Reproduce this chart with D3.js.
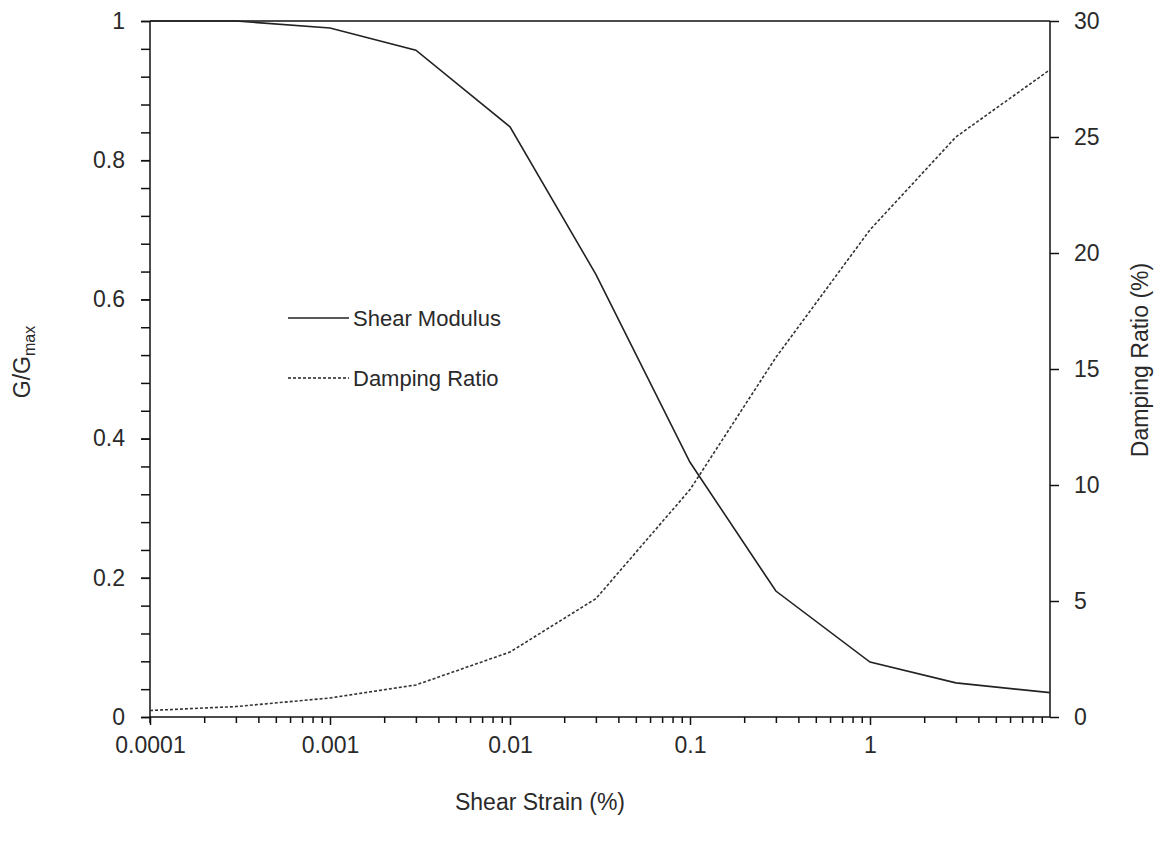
<!DOCTYPE html>
<html lang="en">
<head>
<meta charset="utf-8">
<title>Shear Modulus and Damping Ratio</title>
<script src="https://d3js.org/d3.v7.min.js"></script>
<style>
    body, html { margin: 0; padding: 0; background: #fff; overflow: hidden; }
    text { font-family: Arial, "Liberation Sans", sans-serif; fill: #2a2a2a; }
    .axis path, .axis line { stroke: #111; stroke-width: 1.5px; }
    .axis text { font-size: 23px; }
</style>
</head>
<body>
<svg width="1171" height="843"></svg>
<script>
// strain values (%)
var strain = [0.0001, 0.0003, 0.001, 0.003, 0.01, 0.03, 0.1, 0.3, 1, 3, 10];
// G/Gmax
var modulus = [1.0, 1.0, 0.99, 0.958, 0.848, 0.636, 0.366, 0.181, 0.079, 0.049, 0.035];
// damping ratio (%)
var damping = [0.28, 0.45, 0.82, 1.38, 2.8, 5.1, 9.8, 15.5, 21.0, 25.0, 27.9];

var xTickLabels = ["0.0001", "0.001", "0.01", "0.1", "1"];
var leftTicks = [0, 0.2, 0.4, 0.6, 0.8, 1];
var rightTicks = [0, 5, 10, 15, 20, 25, 30];

var svg = d3.select("svg"),
    margin = {left: 150, right: 121, top: 21, bottom: 126},
    width = 1171 - margin.left - margin.right,
    height = 843 - margin.top - margin.bottom,
    g = svg.append("g").attr("transform", "translate(" + margin.left + "," + margin.top + ")");

var x = d3.scaleLog().domain([0.0001, 10]).range([0, width]);
var yL = d3.scaleLinear().domain([0, 1]).range([height, 0]);
var yR = d3.scaleLinear().domain([0, 30]).range([height, 0]);

// top frame line
g.append("line")
    .attr("x1", 0).attr("x2", width).attr("y1", 0).attr("y2", 0)
    .attr("stroke", "#111").attr("stroke-width", 1.5);

// minor x ticks
var minorX = [];
for (var e = -4; e < 1; e++) {
    for (var m = 2; m <= 9; m++) minorX.push(m * Math.pow(10, e));
}
g.append("g").attr("class", "axis")
    .attr("transform", "translate(0," + height + ")")
    .call(d3.axisBottom(x).tickValues(minorX).tickSize(6).tickFormat(""))
    .select(".domain").remove();

g.append("g").attr("class", "axis")
    .attr("transform", "translate(0," + height + ")")
    .call(d3.axisBottom(x).tickValues(xTickLabels.map(Number)).tickSize(8).tickPadding(12)
        .tickFormat(function (d, i) { return xTickLabels[i]; }))
    .call(function (a) { a.select(".domain").attr("d", "M0,0H" + width); });

// left axis: minor ticks every 0.04
g.append("g").attr("class", "axis")
    .call(d3.axisLeft(yL).tickValues(d3.range(0, 1.001, 0.04)).tickSize(9).tickFormat(""))
    .select(".domain").remove();
g.append("g").attr("class", "axis")
    .call(d3.axisLeft(yL).tickValues(leftTicks).tickSize(9).tickPadding(16).tickFormat(d3.format("")))
    .call(function (a) { a.select(".domain").attr("d", "M0,0V" + (height + 6)); });

// right axis
g.append("g").attr("class", "axis")
    .attr("transform", "translate(" + width + ",0)")
    .call(d3.axisRight(yR).tickValues(rightTicks).tickSize(9).tickPadding(15))
    .call(function (a) { a.select(".domain").attr("d", "M0,0V" + height); });

// curves
var lineL = d3.line().x(function (d) { return x(d[0]); }).y(function (d) { return yL(d[1]); });
var lineR = d3.line().x(function (d) { return x(d[0]); }).y(function (d) { return yR(d[1]); });

g.append("path")
    .datum(d3.zip(strain, modulus))
    .attr("fill", "none").attr("stroke", "#222").attr("stroke-width", 1.6)
    .attr("d", lineL);

g.append("path")
    .datum(d3.zip(strain, damping))
    .attr("fill", "none").attr("stroke", "#333").attr("stroke-width", 1.6)
    .attr("stroke-dasharray", "3,2")
    .attr("d", lineR);

// legend
var legend = svg.append("g");
var items = [["Shear Modulus", null, 318], ["Damping Ratio", "3,2", 378]];
items.forEach(function (it) {
    legend.append("line")
        .attr("x1", 288).attr("x2", 349).attr("y1", it[2]).attr("y2", it[2])
        .attr("stroke", "#222").attr("stroke-width", 1.6)
        .attr("stroke-dasharray", it[1]);
    legend.append("text")
        .attr("x", 353).attr("y", it[2]).attr("dy", "0.35em")
        .style("font-size", "22px")
        .text(it[0]);
});

// axis titles
svg.append("text")
    .attr("x", 540).attr("y", 810)
    .attr("text-anchor", "middle").style("font-size", "23px")
    .text("Shear Strain (%)");

var lt = svg.append("text")
    .attr("transform", "translate(30,362) rotate(-90)")
    .attr("text-anchor", "middle").style("font-size", "23px");
lt.append("tspan").text("G/G");
lt.append("tspan").attr("dy", 5).style("font-size", "16px").text("max");

svg.append("text")
    .attr("transform", "translate(1148,360) rotate(-90)")
    .attr("text-anchor", "middle").style("font-size", "23px")
    .text("Damping Ratio (%)");
</script>
</body>
</html>
